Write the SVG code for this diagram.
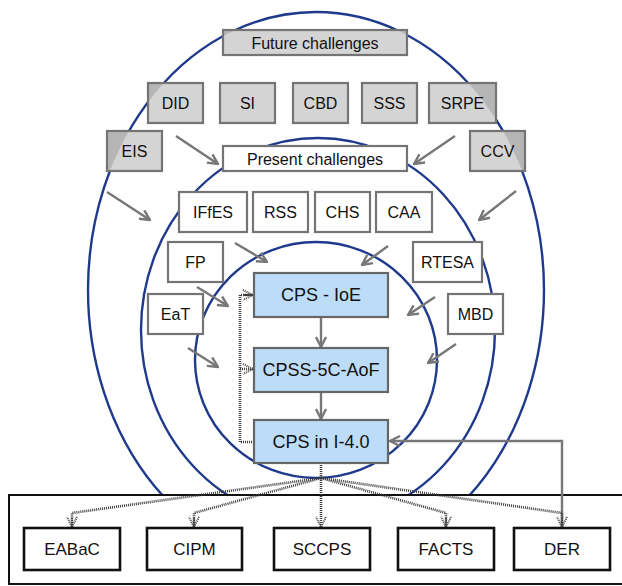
<svg xmlns="http://www.w3.org/2000/svg" width="622" height="586" viewBox="0 0 622 586">
<style>
text{font-family:"Liberation Sans",Arial,sans-serif;fill:#111;text-anchor:middle;dominant-baseline:central}
.ring{fill:none;stroke:#1f3a8c;stroke-width:2.4}
.gdark{fill:#b6b6b6}
.glight{fill:#d4d4d4}
.gstroke{fill:none;stroke:#747474;stroke-width:2.2}
.wbox{fill:#fff;stroke:#747474;stroke-width:2.2}
.bbox{fill:#bddcf8;stroke:#666;stroke-width:2.2}
.kbox{fill:#fff;stroke:#111;stroke-width:2.6}
.s16{font-size:16px}
.s18{font-size:18px}
.s17{font-size:17px}
.arr{fill:none;stroke:#777;stroke-width:2.4;marker-end:url(#av)}
.dot{fill:none;stroke:#3a3a3a;stroke-width:2.6;stroke-dasharray:1 1}
.dota{fill:none;stroke:#3a3a3a;stroke-width:2.6;stroke-dasharray:1 1;marker-end:url(#dv)}
</style>
<defs>
<clipPath id="outerClip"><ellipse cx="316" cy="290" rx="228" ry="278"/></clipPath>
<marker id="av" viewBox="0 0 12 12" refX="11" refY="6" markerWidth="12" markerHeight="12" markerUnits="userSpaceOnUse" orient="auto">
<path d="M1,1 L11,6 L1,11" fill="none" stroke="#777" stroke-width="2.4"/>
</marker>
<marker id="dv" viewBox="0 0 12 12" refX="11" refY="6" markerWidth="12" markerHeight="12" markerUnits="userSpaceOnUse" orient="auto">
<path d="M1,1 L11,6 L1,11 M2,6 L11,6" fill="none" stroke="#444" stroke-width="2" stroke-dasharray="1 1"/>
</marker>
</defs>
<g id="rings">
<ellipse class="ring" cx="316" cy="290" rx="228" ry="278"/>
<ellipse class="ring" cx="318" cy="330" rx="177" ry="192"/>
<ellipse class="ring" cx="316" cy="360" rx="121" ry="118"/>
</g>
<g id="container">
<rect x="9" y="495" width="640" height="89" fill="#fff" stroke="#111" stroke-width="2"/>
</g>
<g id="connectors">
<line class="arr" x1="176" y1="136" x2="218" y2="164"/>
<line class="arr" x1="455" y1="136" x2="414" y2="164"/>
<line class="arr" x1="107" y1="192" x2="150" y2="220"/>
<line class="arr" x1="516" y1="191" x2="479" y2="220"/>
<line class="arr" x1="235" y1="243" x2="267" y2="262"/>
<line class="arr" x1="388" y1="246" x2="362" y2="265"/>
<line class="arr" x1="197" y1="287" x2="228" y2="306"/>
<line class="arr" x1="435" y1="297" x2="408" y2="315"/>
<line class="arr" x1="188" y1="348" x2="218" y2="367"/>
<line class="arr" x1="456" y1="344" x2="428" y2="363"/>
<line class="arr" x1="321" y1="317" x2="321" y2="347"/>
<line class="arr" x1="321" y1="392" x2="321" y2="419"/>
<polyline class="arr" points="562,528 562,441 390,441"/>
<polyline class="dota" points="254,442 240,442 240,295 253,295"/>
<polyline class="dota" points="240,369 253,369"/>
<line class="dot" x1="321" y1="463" x2="321" y2="478"/>
<polyline class="dota" points="321,478 72,513 72,527"/>
<polyline class="dota" points="321,478 194,513 194,527"/>
<polyline class="dota" points="321,478 321,527"/>
<polyline class="dota" points="321,478 446,513 446,527"/>
<polyline class="dota" points="321,478 562,513 562,527"/>
</g>
<g id="future-challenges"><rect class="gdark" x="223" y="30" width="184" height="25"/><rect class="glight" x="223" y="30" width="184" height="25" clip-path="url(#outerClip)"/><rect class="gstroke" x="223" y="30" width="184" height="25"/><text class="s16" x="315" y="43">Future challenges</text></g>
<g id="DID"><rect class="gdark" x="148" y="83" width="55" height="40"/><rect class="glight" x="148" y="83" width="55" height="40" clip-path="url(#outerClip)"/><rect class="gstroke" x="148" y="83" width="55" height="40"/><text class="s16" x="175.5" y="103">DID</text></g>
<g id="SI"><rect class="gdark" x="220" y="83" width="55" height="40"/><rect class="glight" x="220" y="83" width="55" height="40" clip-path="url(#outerClip)"/><rect class="gstroke" x="220" y="83" width="55" height="40"/><text class="s16" x="247.5" y="103">SI</text></g>
<g id="CBD"><rect class="gdark" x="293" y="83" width="55" height="40"/><rect class="glight" x="293" y="83" width="55" height="40" clip-path="url(#outerClip)"/><rect class="gstroke" x="293" y="83" width="55" height="40"/><text class="s16" x="320.5" y="103">CBD</text></g>
<g id="SSS"><rect class="gdark" x="362" y="83" width="55" height="40"/><rect class="glight" x="362" y="83" width="55" height="40" clip-path="url(#outerClip)"/><rect class="gstroke" x="362" y="83" width="55" height="40"/><text class="s16" x="389.5" y="103">SSS</text></g>
<g id="SRPE"><rect class="gdark" x="429" y="83" width="67" height="40"/><rect class="glight" x="429" y="83" width="67" height="40" clip-path="url(#outerClip)"/><rect class="gstroke" x="429" y="83" width="67" height="40"/><text class="s16" x="462.5" y="103">SRPE</text></g>
<g id="EIS"><rect class="gdark" x="107" y="131" width="55" height="40"/><rect class="glight" x="107" y="131" width="55" height="40" clip-path="url(#outerClip)"/><rect class="gstroke" x="107" y="131" width="55" height="40"/><text class="s16" x="134.5" y="151">EIS</text></g>
<g id="CCV"><rect class="gdark" x="470" y="131" width="55" height="40"/><rect class="glight" x="470" y="131" width="55" height="40" clip-path="url(#outerClip)"/><rect class="gstroke" x="470" y="131" width="55" height="40"/><text class="s16" x="497.5" y="151">CCV</text></g>
<g id="present-challenges"><rect class="wbox" x="223" y="146" width="184" height="25"/><text class="s16" x="315" y="159">Present challenges</text></g>
<g id="IFfES"><rect class="wbox" x="179" y="192" width="68" height="40"/><text class="s16" x="213" y="212">IFfES</text></g>
<g id="RSS"><rect class="wbox" x="253" y="192" width="55" height="40"/><text class="s16" x="280.5" y="212">RSS</text></g>
<g id="CHS"><rect class="wbox" x="315" y="192" width="55" height="40"/><text class="s16" x="342.5" y="212">CHS</text></g>
<g id="CAA"><rect class="wbox" x="376" y="192" width="56" height="40"/><text class="s16" x="404" y="212">CAA</text></g>
<g id="FP"><rect class="wbox" x="168" y="242" width="55" height="40"/><text class="s16" x="195.5" y="262">FP</text></g>
<g id="RTESA"><rect class="wbox" x="413" y="242" width="69" height="40"/><text class="s16" x="447.5" y="262">RTESA</text></g>
<g id="EaT"><rect class="wbox" x="148" y="294" width="55" height="40"/><text class="s16" x="175.5" y="314">EaT</text></g>
<g id="MBD"><rect class="wbox" x="448" y="294" width="55" height="40"/><text class="s16" x="475.5" y="314">MBD</text></g>
<g id="CPS-IoE"><rect class="bbox" x="254" y="273" width="134" height="44"/><text class="s18" x="321" y="295">CPS - IoE</text></g>
<g id="CPSS-5C-AoF"><rect class="bbox" x="254" y="348" width="134" height="44"/><text class="s18" x="321" y="370">CPSS-5C-AoF</text></g>
<g id="CPS-in-I-4.0"><rect class="bbox" x="254" y="420" width="134" height="43"/><text class="s18" x="321" y="441.5">CPS in I-4.0</text></g>
<g id="EABaC"><rect class="kbox" x="24" y="528" width="96" height="42"/><text class="s17" x="72" y="549">EABaC</text></g>
<g id="CIPM"><rect class="kbox" x="147" y="528" width="95" height="42"/><text class="s17" x="194.5" y="549">CIPM</text></g>
<g id="SCCPS"><rect class="kbox" x="274" y="528" width="96" height="42"/><text class="s17" x="322" y="549">SCCPS</text></g>
<g id="FACTS"><rect class="kbox" x="398" y="528" width="96" height="42"/><text class="s17" x="446" y="549">FACTS</text></g>
<g id="DER"><rect class="kbox" x="514" y="528" width="96" height="42"/><text class="s17" x="562" y="549">DER</text></g>
</svg>
